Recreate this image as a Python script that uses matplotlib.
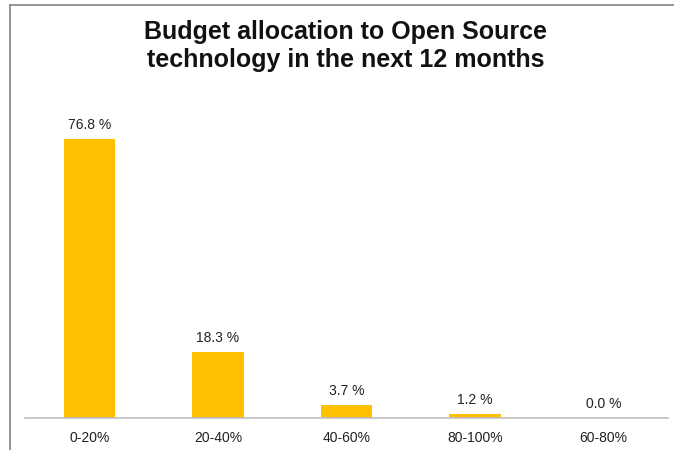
import matplotlib
matplotlib.use("Agg")
import matplotlib.pyplot as plt
from matplotlib.lines import Line2D

categories = ["0-20%", "20-40%", "40-60%", "80-100%", "60-80%"]
values = [76.8, 18.3, 3.7, 1.2, 0.0]
title = "Budget allocation to Open Source\ntechnology in the next 12 months"

plt.rcParams['font.family'] = ['Liberation Sans', 'DejaVu Sans']

W, H = 674, 450
fig = plt.figure(figsize=(W / 100, H / 100), dpi=100)

# plot area in pixel terms
left, right, base, top = 25, 668, 418, 91
ax = fig.add_axes([left / W, 1 - base / H, (right - left) / W, (base - top) / H])

x = range(len(categories))
ax.bar(x, values, width=0.4, color="#FFC000")
for xi, v in zip(x, values):
    ax.annotate(f"{v:.1f} %", (xi, v), xytext=(0, 5), textcoords="offset points",
                ha="center", va="bottom", fontsize=10, color="#222222")

ax.set_xlim(-0.5, len(categories) - 0.5)
ax.set_ylim(0, 90)
ax.set_xticks(list(x))
ax.set_xticklabels(categories, fontsize=10, color="#222222")
ax.tick_params(axis="x", length=0, pad=9)
ax.set_yticks([])
for s in ("top", "right", "left"):
    ax.spines[s].set_visible(False)
ax.spines["bottom"].set_color("#BFBFBF")
ax.spines["bottom"].set_linewidth(1.2)

fig.text(346 / W, 1 - 46 / H, title, ha="center", va="center",
         fontsize=18, fontweight="bold", color="#111111", linespacing=1.2)

# outer frame: top and left edges
fig.add_artist(Line2D([9.5 / W, 1], [1 - 4.5 / H, 1 - 4.5 / H], color="#8C8C8C", lw=1.3,
                      transform=fig.transFigure))
fig.add_artist(Line2D([9.5 / W, 9.5 / W], [0, 1 - 4.5 / H], color="#8C8C8C", lw=1.3,
                      transform=fig.transFigure))

fig.savefig("out.png", dpi=100)
